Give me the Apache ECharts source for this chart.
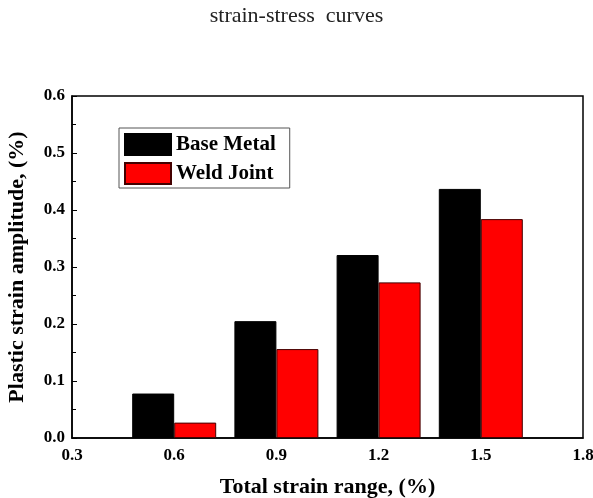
<!DOCTYPE html>
<html>
<head>
<meta charset="utf-8">
<script src="https://cdn.jsdelivr.net/npm/echarts@6/dist/echarts.min.js"></script>
<style>
  html, body { margin: 0; padding: 0; background: #fff; }
  #chartBox { width: 593px; height: 498px; }
</style>
</head>
<body>
<div id="chartBox"></div>
<script>
// total strain range (x positions of bar groups)
var strainRange = [0.6, 0.9, 1.2, 1.5];
// plastic strain amplitude
var baseMetal = [0.078, 0.205, 0.321, 0.437];
var weldJoint = [0.027, 0.156, 0.273, 0.384];
var seriesNames = ["Base Metal", "Weld Joint"];

function pairs(xs, ys) {
  return xs.map(function (x, i) { return [x, ys[i]]; });
}

var serif = "Liberation Serif";
var chart = echarts.init(document.getElementById("chartBox"));

var option = {
  animation: false,
  title: {
    text: "strain-stress  curves",
    left: "center",
    top: 0,
    textStyle: { fontFamily: serif, fontWeight: "normal", fontSize: 22, color: "#222" },
  },
  grid: {
    left: 72, right: 10, top: 96, bottom: 60,
    outerBoundsMode: "none",
    containLabel: false,
    show: true, borderColor: "#000", borderWidth: 1.5,
  },
  legend: {
    orient: "vertical",
    left: 119, top: 128,
    data: seriesNames,
    icon: "rect",
    itemWidth: 46, itemHeight: 21, itemGap: 6,
    padding: [5, 14, 3, 5],
    borderColor: "#555", borderWidth: 1,
    textStyle: { fontFamily: serif, fontWeight: "bold", fontSize: 21, color: "#000" },
  },
  xAxis: {
    type: "value",
    min: 0.3, max: 1.8, interval: 0.3,
    name: "Total strain range, (%)",
    nameLocation: "middle",
    nameGap: 38,
    nameTextStyle: { fontFamily: serif, fontWeight: "bold", fontSize: 22, color: "#000" },
    axisLine: { show: true, lineStyle: { color: "#000", width: 1.5 } },
    axisTick: { show: false },
    splitLine: { show: false },
    axisLabel: {
      margin: 9,
      fontFamily: serif, fontWeight: "bold", fontSize: 17, color: "#000",
      formatter: function (v) { return v.toFixed(1); },
    },
  },
  yAxis: {
    type: "value",
    min: 0, max: 0.6, interval: 0.1,
    name: "Plastic strain amplitude, (%)",
    nameLocation: "middle",
    nameGap: 44,
    nameTextStyle: { fontFamily: serif, fontWeight: "bold", fontSize: 22, color: "#000" },
    axisLine: { show: true, lineStyle: { color: "#000", width: 1.5 } },
    axisTick: { show: true, inside: true, length: 5, lineStyle: { color: "#000" } },
    minorTick: { show: true, splitNumber: 2, length: 4, lineStyle: { color: "#000" } },
    splitLine: { show: false },
    axisLabel: {
      margin: 7,
      fontFamily: serif, fontWeight: "bold", fontSize: 17, color: "#000",
      formatter: function (v) { return v.toFixed(1); },
    },
  },
  series: [
    {
      name: seriesNames[0],
      type: "bar",
      data: pairs(strainRange, baseMetal),
      barWidth: 42,
      barGap: "0%",
      itemStyle: { color: "#000", borderColor: "#000", borderWidth: 1 },
    },
    {
      name: seriesNames[1],
      type: "bar",
      data: pairs(strainRange, weldJoint),
      barWidth: 42,
      barGap: "0%",
      itemStyle: { color: "#ff0000", borderColor: "#400", borderWidth: 1 },
    },
  ],
};

chart.setOption(option);
</script>
</body>
</html>
